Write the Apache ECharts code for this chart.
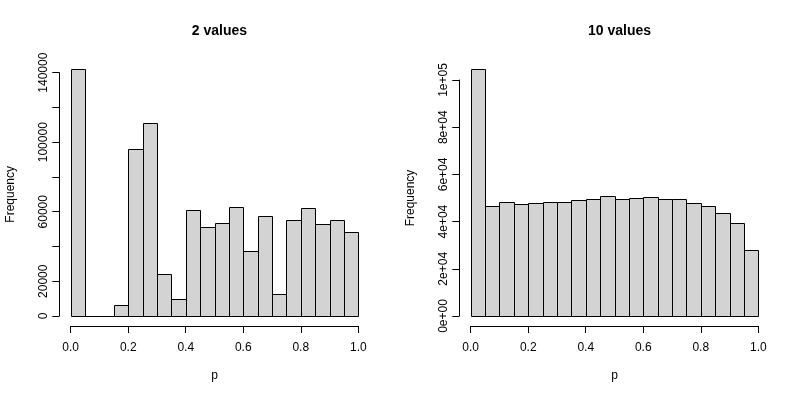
<!DOCTYPE html>
<html>
<head>
<meta charset="utf-8">
<script src="https://cdn.jsdelivr.net/npm/echarts@6/dist/echarts.min.js"></script>
<style>html,body{margin:0;padding:0;background:#fff;}#c{width:800px;height:400px;}</style>
</head>
<body>
<div id="c"></div>
<script>
// Histogram bin breaks (shared by both panels)
var breaks = [0,0.05,0.1,0.15,0.2,0.25,0.3,0.35,0.4,0.45,0.5,0.55,0.6,0.65,0.7,0.75,0.8,0.85,0.9,0.95,1.0];
// Panel titles
var titles = ['2 values', '10 values'];
// Counts per bin
var leftCounts = [142100,0,0,6100,95900,111000,24000,9600,61200,51400,53700,62900,37200,57300,12700,55400,61900,52900,55200,48100];
var rightCounts = [104700,46500,48400,47300,47900,48400,48400,49000,49400,50700,49700,50100,50300,49700,49700,48000,46800,43500,39300,27800];
// Axis tick values and labels
var xTicks = [0,0.2,0.4,0.6,0.8,1.0];
var xTickLabels = ['0.0','0.2','0.4','0.6','0.8','1.0'];
var leftYTicks = [0,20000,40000,60000,80000,100000,120000,140000];
var leftYTickLabels = ['0','20000','','60000','','100000','','140000'];
var rightYTicks = [0,20000,40000,60000,80000,100000];
var rightYTickLabels = ['0e+00','2e+04','4e+04','6e+04','8e+04','1e+05'];

function binData(counts){
  var out = [];
  for (var i = 0; i < counts.length; i++) out.push([breaks[i], breaks[i+1], counts[i]]);
  return out;
}
function renderBar(params, api){
  var p0 = api.coord([api.value(0), 0]);
  var p1 = api.coord([api.value(1), api.value(2)]);
  var x0 = Math.round(p0[0]) + 0.5, x1 = Math.round(p1[0]) + 0.5;
  var y0 = Math.round(p0[1]) + 0.5, y1 = Math.round(p1[1]) + 0.5;
  return {type:'rect', shape:{x:x0, y:y1, width:x1-x0, height:y0-y1},
          style:{fill:'#D3D3D3', stroke:'#000', lineWidth:1}};
}
var FONT = 'Liberation Sans, Arial, sans-serif';
function xAxisCfg(gi){
  return {type:'value', gridIndex:gi, min:0, max:1, interval:0.2, offset:10,
    name:'p', nameLocation:'middle', nameGap:44,
    nameTextStyle:{color:'#000', fontSize:12, fontFamily:FONT},
    axisLine:{show:true, onZero:false, lineStyle:{color:'#000', width:1}},
    axisTick:{show:true, length:7, lineStyle:{color:'#000'}},
    axisLabel:{color:'#000', fontSize:12, fontFamily:FONT, margin:16,
      formatter:function(v){ var i = xTicks.indexOf(Math.round(v*10)/10); return i>=0 ? xTickLabels[i] : ''; }},
    splitLine:{show:false}};
}
function yAxisCfg(gi, ticks, labels){
  return {type:'value', gridIndex:gi, min:0, max:ticks[ticks.length-1], interval:ticks[1]-ticks[0], offset:11.4,
    name:'Frequency', nameLocation:'middle', nameGap:43,
    nameTextStyle:{color:'#000', fontSize:12, fontFamily:FONT},
    axisLine:{show:true, onZero:false, lineStyle:{color:'#000', width:1}},
    axisTick:{show:true, length:7, lineStyle:{color:'#000'}},
    axisLabel:{color:'#000', fontSize:12, fontFamily:FONT, rotate:90, margin:10,
      formatter:function(v){ var i = ticks.indexOf(v); return i>=0 ? labels[i] : ''; }},
    splitLine:{show:false}};
}
var chart = echarts.init(document.getElementById('c'), null, {renderer:'canvas'});
chart.setOption({
  animation:false,
  backgroundColor:'#fff',
  title:[
    {text:titles[0], left:214.5, top:19, textAlign:'center', textStyle:{fontSize:14, fontWeight:'bold', color:'#000', fontFamily:FONT}},
    {text:titles[1], left:614.5, top:19, textAlign:'center', textStyle:{fontSize:14, fontWeight:'bold', color:'#000', fontFamily:FONT}}
  ],
  grid:[
    {left:70.7, width:287.6, top:72.7, height:243.3},
    {left:470.7, width:287.6, top:80, height:236}
  ],
  xAxis:[xAxisCfg(0), xAxisCfg(1)],
  yAxis:[yAxisCfg(0, leftYTicks, leftYTickLabels), yAxisCfg(1, rightYTicks, rightYTickLabels)],
  series:[
    {type:'custom', xAxisIndex:0, yAxisIndex:0, clip:false, renderItem:renderBar, data:binData(leftCounts), encode:{x:[0,1], y:2}},
    {type:'custom', xAxisIndex:1, yAxisIndex:1, clip:false, renderItem:renderBar, data:binData(rightCounts), encode:{x:[0,1], y:2}}
  ]
});
</script>
</body>
</html>
